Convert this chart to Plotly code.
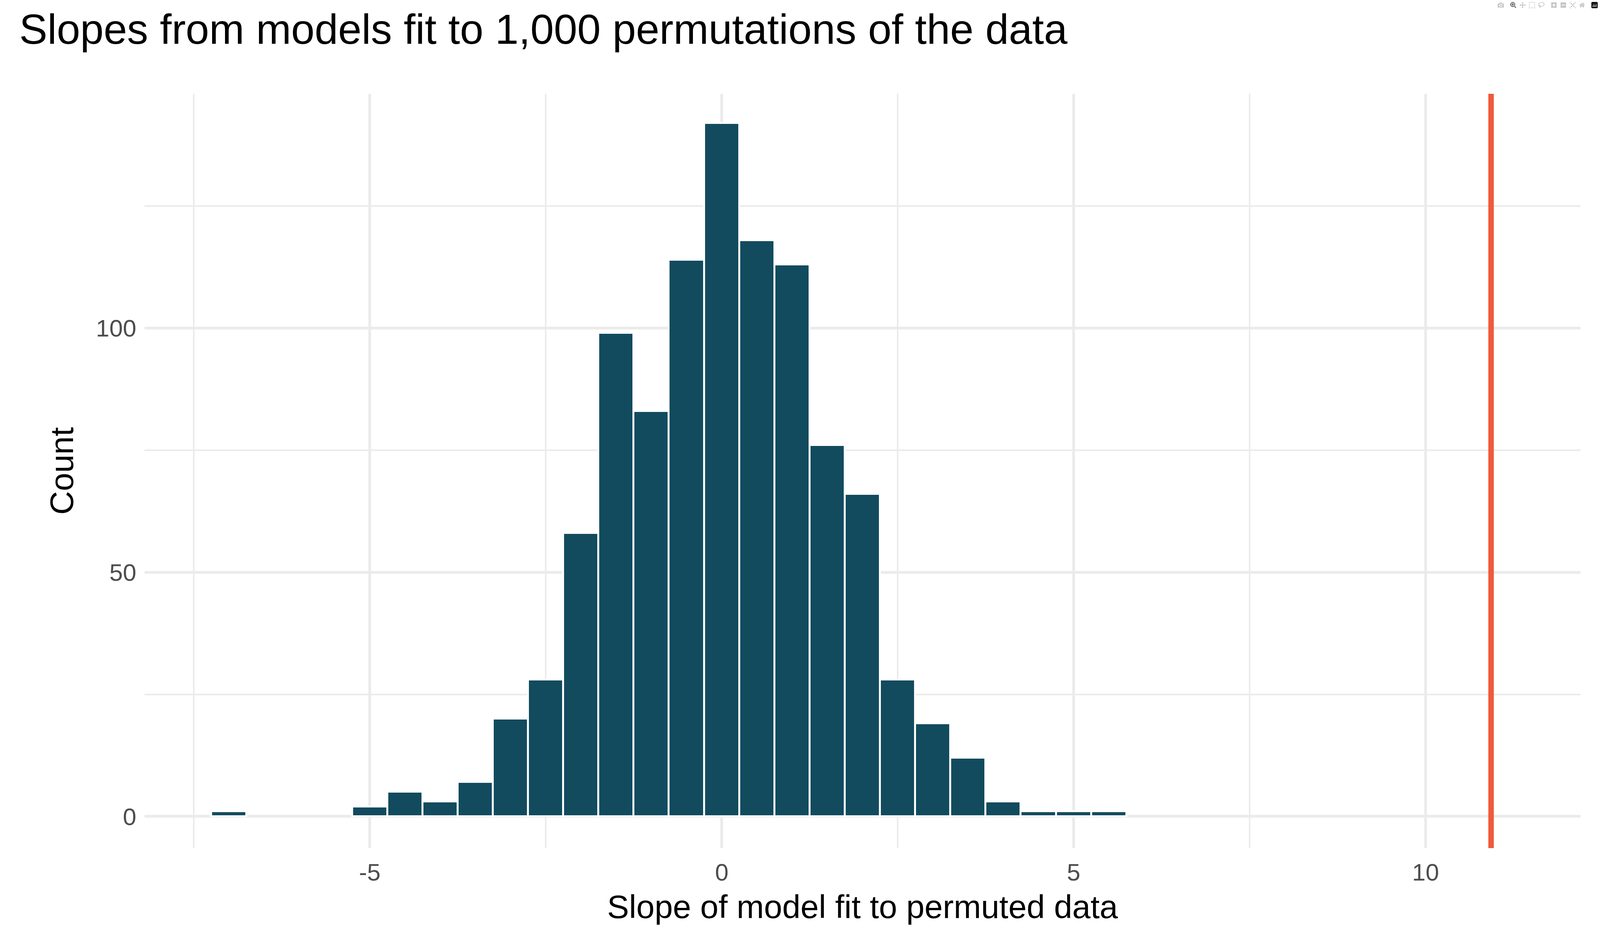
import plotly.graph_objects as go

bin_centers = [-7.0, -5.0, -4.5, -4.0, -3.5, -3.0, -2.5, -2.0, -1.5, -1.0, -0.5, 0.0,
               0.5, 1.0, 1.5, 2.0, 2.5, 3.0, 3.5, 4.0, 4.5, 5.0, 5.5]
counts = [1, 2, 5, 3, 7, 20, 28, 58, 99, 83, 114, 142,
          118, 113, 76, 66, 28, 19, 12, 3, 1, 1, 1]
observed_slope = 10.93

fig = go.Figure()
fig.add_trace(go.Bar(x=bin_centers, y=counts, width=0.5,
                     marker=dict(color="#124B5E", line=dict(color="white", width=5))))
fig.add_shape(type="line", x0=observed_slope, x1=observed_slope, y0=0, y1=1,
              yref="paper", line=dict(color="#F05A3A", width=14))

grid = "#EBEBEB"
fig.update_layout(
    autosize=True, plot_bgcolor="white", paper_bgcolor="white",
    font=dict(family="Liberation Sans, Arial, sans-serif", color="black"),
    title=dict(text="Slopes from models fit to 1,000 permutations of the data",
               font=dict(size=108), x=0.012, xanchor="left", y=0.985, yanchor="top"),
    margin=dict(l=370, r=50, t=240, b=230),
    showlegend=False, bargap=0,
    xaxis=dict(range=[-8.2, 12.2], tickvals=[-5, 0, 5, 10], ticktext=["-5", "0", "5", "10"],
               showgrid=True, gridcolor=grid, gridwidth=7, zeroline=False,
               minor=dict(tickvals=[-7.5, -2.5, 2.5, 7.5], showgrid=True, gridcolor=grid, gridwidth=3.5),
               tickfont=dict(size=62, color="#4D4D4D"), ticks="", ticklabelstandoff=20,
               title=dict(text="Slope of model fit to permuted data", font=dict(size=84), standoff=25)),
    yaxis=dict(range=[-6.5, 148], tickvals=[0, 50, 100],
               showgrid=True, gridcolor=grid, gridwidth=7, zeroline=False,
               minor=dict(tickvals=[25, 75, 125], showgrid=True, gridcolor=grid, gridwidth=3.5),
               tickfont=dict(size=62, color="#4D4D4D"), ticks="", ticklabelstandoff=20,
               title=dict(text="Count", font=dict(size=84), standoff=30)),
)
fig.write_html("out.html", default_width="100vw", default_height="100vh",
               config={"responsive": True})
with open("out.html") as f:
    html = f.read()
html = html.replace("<head>", "<head><style>html,body{margin:0;padding:0;overflow:hidden;}</style>", 1)
with open("out.html", "w") as f:
    f.write(html)
